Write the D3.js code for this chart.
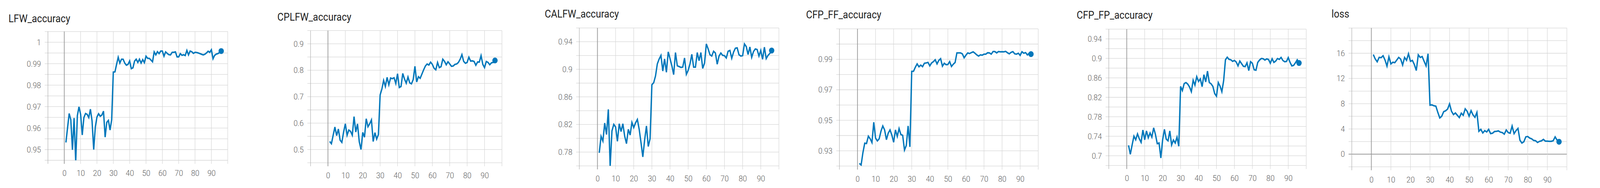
<!DOCTYPE html>
<html>
<head>
<meta charset="utf-8">
<script src="https://cdn.jsdelivr.net/npm/d3@7"></script>
<style>
  html, body { margin: 0; padding: 0; background: #fff; overflow: hidden; }
  #chart svg { display: block; width: 100vw; height: 100vh; }
</style>
</head>
<body>
<div id="chart"></div>
<script>
const steps = [1,2,3,4,5,6,7,8,9,10,11,12,13,14,15,16,17,18,19,20,21,22,23,24,25,26,27,28,29,30,
  31,32,33,34,35,36,37,38,39,40,41,42,43,44,45,46,47,48,49,50,51,52,53,54,55,56,57,58,59,60,
  61,62,63,64,65,66,67,68,69,70,71,72,73,74,75,76,77,78,79,80,81,82,83,84,85,86,87,88,89,90,
  91,92,93,94,95,96];

const lfwAccuracy = [0.9533,0.9601,0.9668,0.9639,0.9499,0.9647,0.9443,0.9658,0.9699,0.9664,
  0.9568,0.9649,0.9668,0.9664,0.9649,0.9688,0.9633,0.9500,0.9606,0.9652,
  0.9667,0.9655,0.9661,0.9679,0.9558,0.9627,0.9636,0.9591,0.9639,0.9861,
  0.9862,0.9897,0.9930,0.9903,0.9921,0.9921,0.9903,0.9893,0.9897,0.9913,
  0.9877,0.9881,0.9912,0.9921,0.9906,0.9921,0.9903,0.9919,0.9905,0.9935,
  0.9925,0.9925,0.9917,0.9909,0.9955,0.9941,0.9956,0.9947,0.9959,0.9959,
  0.9935,0.9955,0.9948,0.9942,0.9941,0.9953,0.9953,0.9955,0.9932,0.9932,
  0.9947,0.9939,0.9942,0.9938,0.9962,0.9941,0.9959,0.9956,0.9948,0.9953,
  0.9952,0.9950,0.9947,0.9944,0.9941,0.9944,0.9950,0.9958,0.9953,0.9965,
  0.9923,0.9939,0.9945,0.9947,0.9952,0.9959];

const cplfwAccuracy = [0.5305,0.5221,0.5541,0.5851,0.5527,0.5777,0.5354,0.5271,0.5664,0.5974,
  0.5541,0.5738,0.5689,0.5541,0.6245,0.5664,0.5969,0.5295,0.5000,0.5650,
  0.5467,0.6166,0.5861,0.5974,0.6122,0.5305,0.5640,0.5394,0.5566,0.7066,
  0.7288,0.7617,0.7386,0.7731,0.7450,0.7706,0.7681,0.7716,0.7499,0.7868,
  0.7347,0.7386,0.7878,0.7667,0.7509,0.7745,0.7524,0.7485,0.7647,0.8149,
  0.7558,0.7755,0.7696,0.7854,0.8016,0.8159,0.8237,0.8198,0.8306,0.8223,
  0.8075,0.8016,0.8296,0.8100,0.8134,0.8419,0.8336,0.8208,0.8321,0.8237,
  0.8149,0.8159,0.8223,0.8237,0.8296,0.8419,0.8592,0.8336,0.8262,0.8296,
  0.8493,0.8346,0.8355,0.8331,0.8188,0.8311,0.8311,0.8552,0.8223,0.8100,
  0.8331,0.8296,0.8208,0.8282,0.8296,0.8370];

const calfwAccuracy = [0.7790,0.8028,0.7960,0.8221,0.8055,0.8419,0.7595,0.8107,0.8202,0.8164,
  0.7956,0.8211,0.8098,0.8211,0.8032,0.7922,0.8130,0.8047,0.8230,0.8155,
  0.8224,0.8273,0.8130,0.7938,0.7730,0.7975,0.8179,0.7881,0.7994,0.8777,
  0.8806,0.8904,0.9079,0.9149,0.9202,0.8975,0.9151,0.8957,0.9253,0.9155,
  0.9051,0.8923,0.9243,0.9051,0.9040,0.9028,0.9032,0.9164,0.8928,0.8985,
  0.9079,0.9217,0.9032,0.9032,0.9243,0.9126,0.9243,0.9013,0.9089,0.9368,
  0.9296,0.9211,0.9192,0.9262,0.9236,0.9074,0.9192,0.9236,0.9202,0.9198,
  0.9164,0.9262,0.9274,0.9160,0.9249,0.9306,0.9311,0.9211,0.9192,0.9198,
  0.9368,0.9330,0.9215,0.9324,0.9174,0.9258,0.9296,0.9287,0.9192,0.9274,
  0.9145,0.9321,0.9155,0.9202,0.9230,0.9272];

const cfpFfAccuracy = [0.9217,0.9207,0.9288,0.9350,0.9348,0.9396,0.9379,0.9354,0.9487,0.9383,
  0.9365,0.9379,0.9429,0.9463,0.9437,0.9373,0.9416,0.9437,0.9403,0.9356,
  0.9437,0.9394,0.9446,0.9407,0.9401,0.9305,0.9335,0.9463,0.9326,0.9821,
  0.9822,0.9848,0.9870,0.9851,0.9862,0.9852,0.9874,0.9876,0.9880,0.9857,
  0.9876,0.9885,0.9897,0.9870,0.9893,0.9904,0.9855,0.9874,0.9865,0.9866,
  0.9885,0.9853,0.9868,0.9879,0.9942,0.9942,0.9942,0.9936,0.9910,0.9927,
  0.9942,0.9938,0.9944,0.9949,0.9940,0.9929,0.9921,0.9929,0.9927,0.9934,
  0.9934,0.9943,0.9942,0.9934,0.9951,0.9951,0.9942,0.9951,0.9949,0.9950,
  0.9949,0.9952,0.9943,0.9936,0.9946,0.9950,0.9936,0.9934,0.9940,0.9926,
  0.9950,0.9940,0.9944,0.9929,0.9940,0.9934];

const cfpFpAccuracy = [0.7214,0.7030,0.7222,0.7403,0.7329,0.7449,0.7347,0.7275,0.7529,0.7329,
  0.7510,0.7369,0.7467,0.7382,0.7574,0.7435,0.7248,0.7262,0.6955,0.7329,
  0.7542,0.7342,0.7307,0.7510,0.7222,0.7323,0.7262,0.7382,0.7195,0.8423,
  0.8338,0.8482,0.8503,0.8471,0.8410,0.8316,0.8551,0.8450,0.8624,0.8525,
  0.8578,0.8418,0.8664,0.8517,0.8738,0.8503,0.8477,0.8423,0.8276,0.8223,
  0.8503,0.8429,0.8316,0.8543,0.8971,0.9024,0.8979,0.8971,0.8939,0.8957,
  0.8925,0.8845,0.8944,0.8891,0.8837,0.8832,0.8909,0.8749,0.8931,0.8899,
  0.8765,0.8757,0.8917,0.8965,0.8997,0.8992,0.8965,0.8989,0.8976,0.8899,
  0.8992,0.8917,0.8944,0.8997,0.8979,0.9019,0.8957,0.8931,0.8936,0.9016,
  0.8917,0.8845,0.8856,0.8909,0.8971,0.8904];

const loss = [15.79,15.09,14.65,15.34,15.30,15.61,14.92,13.95,15.44,14.30,
  14.57,14.51,14.92,15.34,15.07,14.13,15.34,14.88,15.92,14.72,
  14.86,14.20,13.26,15.75,15.34,15.48,14.72,13.99,15.92,7.77,
  7.81,7.67,7.61,6.63,5.74,6.01,6.74,6.88,7.15,7.98,
  6.80,6.28,6.53,6.16,5.80,6.49,6.16,7.19,6.80,6.01,
  6.90,6.22,5.84,6.63,3.63,3.94,3.36,3.73,3.52,3.94,
  3.25,3.32,3.59,3.63,3.69,3.49,3.42,3.17,3.84,3.42,
  3.32,4.46,3.25,3.73,4.08,2.22,1.76,1.97,2.74,2.80,
  2.55,2.43,2.18,2.13,1.86,2.03,2.11,2.34,2.07,2.07,
  2.03,2.03,2.13,2.74,2.22,1.97];

const xTickLabels = [0,10,20,30,40,50,60,70,80,90];
const xGridLines = [-10,0,10,20,30,40,50,60,70,80,90,100];

const lfwTicks = [0.95,0.96,0.97,0.98,0.99,1];
const cplfwTicks = [0.5,0.6,0.7,0.8,0.9];
const calfwTicks = [0.78,0.82,0.86,0.9,0.94];
const cfpFfTicks = [0.93,0.95,0.97,0.99];
const cfpFpTicks = [0.7,0.74,0.78,0.82,0.86,0.9,0.94];
const lossTicks = [0,4,8,12,16];

// pixel boxes for each card
const panels = [
  {title: "LFW_accuracy", values: lfwAccuracy, ticks: lfwTicks,
    yDomain: [0.945, 1.005], yStep: 0.005, box: {l: 134.8, r: 640.5, t: 80.8, b: 411}, titleAt: [24, 57]},
  {title: "CPLFW_accuracy", values: cplfwAccuracy, ticks: cplfwTicks,
    yDomain: [0.45, 0.95], yStep: 0.05, box: {l: 873.4, r: 1411.7, t: 78.4, b: 417.3}, titleAt: [780, 53.5]},
  {title: "CALFW_accuracy", values: calfwAccuracy, ticks: calfwTicks,
    yDomain: [0.76, 0.96], yStep: 0.02, box: {l: 1629.3, r: 2190.7, t: 71.6, b: 425.3}, titleAt: [1532, 45]},
  {title: "CFP_FF_accuracy", values: cfpFfAccuracy, ticks: cfpFfTicks,
    yDomain: [0.92, 1.01], yStep: 0.01, box: {l: 2360.9, r: 2920, t: 73.9, b: 425.7}, titleAt: [2267, 47]},
  {title: "CFP_FP_accuracy", values: cfpFpAccuracy, ticks: cfpFpTicks,
    yDomain: [0.68, 0.96], yStep: 0.02, box: {l: 3118.5, r: 3673.7, t: 74.7, b: 424.3}, titleAt: [3028, 48.5]},
  {title: "loss", values: loss, ticks: lossTicks,
    yDomain: [-2, 20], yStep: 2, box: {l: 3801.9, r: 4406.8, t: 71.8, b: 427.6}, titleAt: [3745, 45]}
];

const lineColor = "#0077bb";
const gridColor = "#d6d6d6";
const tickLen = 9;

// fixed 4500x482 drawing space, stretched to whatever the window is
const svg = d3.select("#chart")
  .append("svg")
  .attr("viewBox", "0 0 4500 482")
  .attr("preserveAspectRatio", "none");

const drawPanel = (p, idx) => {
  const x = d3.scaleLinear().domain([-10, 100]).range([p.box.l, p.box.r]);
  const y = d3.scaleLinear().domain(p.yDomain).range([p.box.b, p.box.t]);
  const g = svg.append("g");

  g.append("text")
    .attr("x", p.titleAt[0])
    .attr("y", p.titleAt[1])
    .attr("font-family", "Roboto, sans-serif")
    .attr("font-size", 27)
    .attr("fill", "#212121")
    .text(p.title);

  const n = Math.round((p.yDomain[1] - p.yDomain[0]) / p.yStep);
  const yGrid = d3.range(n + 1).map(i => p.yDomain[0] + i * p.yStep);

  g.selectAll(".hgrid")
    .data(yGrid)
    .enter()
    .append("line")
    .attr("x1", p.box.l - tickLen)
    .attr("x2", p.box.r)
    .attr("y1", d => y(d))
    .attr("y2", d => y(d))
    .attr("stroke", d => Math.abs(d) < 1e-9 ? "#999" : gridColor)
    .attr("stroke-width", d => Math.abs(d) < 1e-9 ? 2.2 : 1.3);

  g.selectAll(".vgrid")
    .data(xGridLines)
    .enter()
    .append("line")
    .attr("x1", d => x(d))
    .attr("x2", d => x(d))
    .attr("y1", p.box.t)
    .attr("y2", p.box.b + tickLen)
    .attr("stroke", d => d === 0 ? "#999" : d === -10 ? "#b0b0b0" : gridColor)
    .attr("stroke-width", d => d === 0 ? 2 : 1.3);

  const yAxis = d3.axisLeft(y)
    .tickValues(p.ticks)
    .tickSize(0)
    .tickPadding(19.5)
    .tickFormat(d3.format("~f"));
  const xAxis = d3.axisBottom(x)
    .tickValues(xTickLabels)
    .tickSize(0)
    .tickPadding(25)
    .tickFormat(d3.format("d"));

  [[yAxis, `translate(${p.box.l},0)`], [xAxis, `translate(0,${p.box.b})`]].forEach(([ax, tr]) => {
    const a = g.append("g").attr("transform", tr).call(ax);
    a.select(".domain").remove();
    a.selectAll("text")
      .attr("font-family", "Roboto, sans-serif")
      .attr("font-weight", 300)
      .attr("font-size", 21)
      .attr("fill", "#616161");
  });

  svg.append("clipPath")
    .attr("id", "clip" + idx)
    .append("rect")
    .attr("x", p.box.l)
    .attr("y", p.box.t)
    .attr("width", p.box.r - p.box.l)
    .attr("height", p.box.b - p.box.t);

  const pts = steps.map((s, i) => [s, p.values[i]]);
  const line = d3.line().x(d => x(d[0])).y(d => y(d[1]));

  g.append("path")
    .datum(pts)
    .attr("clip-path", `url(#clip${idx})`)
    .attr("d", line)
    .attr("fill", "none")
    .attr("stroke", lineColor)
    .attr("stroke-width", 3.8)
    .attr("stroke-linejoin", "miter");

  const last = pts[pts.length - 1];
  g.append("circle")
    .attr("cx", x(last[0]))
    .attr("cy", y(last[1]))
    .attr("r", 7.5)
    .attr("fill", lineColor);
};

panels.forEach(drawPanel);
</script>
</body>
</html>
